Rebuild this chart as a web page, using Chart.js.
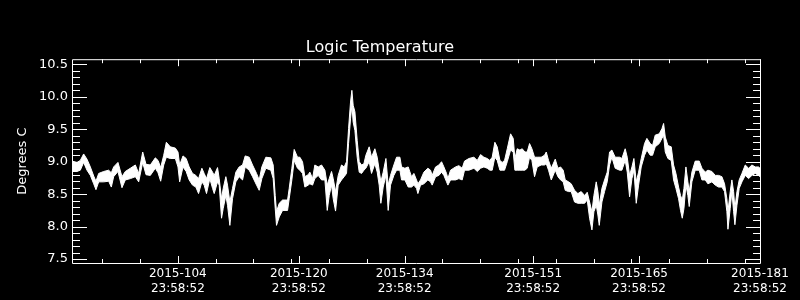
<!DOCTYPE html>
<html>
<head>
<meta charset="utf-8">
<script src="https://cdn.jsdelivr.net/npm/chart.js@4"></script>
<style>
  html, body { margin: 0; padding: 0; background: #000; }
  #wrap { width: 800px; height: 300px; }
</style>
</head>
<body>
<div id="wrap"><canvas id="chart" width="800" height="300"></canvas></div>
<script>
// day of year (2015), upper and lower edge of the noisy temperature band
const days = [
  90.0, 90.66, 91.1, 91.54, 91.98, 92.43, 92.87, 93.17, 93.53, 94.19, 94.85, 95.2, 95.51, 96.08, 96.61, 97.05, 97.72, 98.38, 98.82, 99.35,
  99.79, 100.36, 101.02, 101.38, 101.73, 102.13, 102.48, 103.0, 103.67, 104.02, 104.24, 104.68, 105.1,
  105.5, 105.94, 106.38, 106.74, 107.18, 107.48, 107.79, 108.23, 108.59, 108.81, 109.25, 109.47, 109.78, 110.0, 110.35, 110.57, 110.88, 111.23, 111.67, 112.11,
  112.56, 112.91, 113.44, 113.88, 114.41, 114.76, 115.11, 115.64, 116.3, 116.61, 116.88, 117.05, 117.41, 117.85, 118.51, 118.73, 119.08, 119.39, 119.83,
  120.14, 120.49, 120.8, 121.24, 121.46, 121.82, 122.12, 122.57, 123.01, 123.45, 123.76, 124.02, 124.33, 124.55, 124.86, 125.21, 125.65, 126.0, 126.31, 126.58,
  126.84, 127.02, 127.19, 127.42, 127.72, 127.99, 128.3, 128.61, 128.87, 129.31, 129.62, 130.06, 130.37, 130.63, 130.85, 131.16, 131.52, 131.82, 132.13, 132.57,
  132.93, 133.37, 133.59, 134.03, 134.47, 134.91,
  135.22, 135.57, 135.75, 136.1, 136.54, 137.07, 137.42, 137.64, 138.09, 138.53, 138.88, 139.19, 139.54, 139.72, 140.07, 140.73, 141.17, 141.61, 141.92, 142.5,
  143.16, 143.6, 144.04, 144.48, 144.92, 145.27, 145.58, 145.93, 146.24, 146.6, 146.9, 147.21, 147.57, 148.01, 148.36, 148.58, 148.89, 149.24, 149.55, 149.9, 150.21,
  150.52, 150.83, 151.18, 151.53, 152.06, 152.5, 152.73, 153.03, 153.39, 153.92, 154.27, 154.62, 154.97, 155.24, 155.68, 156.03, 156.47, 156.91, 157.35, 157.8,
  158.15, 158.46, 158.77, 159.03, 159.34, 159.56, 159.74, 160.09, 160.44, 160.79, 161.1, 161.41, 161.85, 162.43, 162.73, 163.17, 163.44, 163.75, 164.06, 164.32,
  164.63, 164.94, 165.29,
  165.73, 166.04, 166.48, 166.79, 167.14, 167.67, 168.03, 168.25, 168.47, 168.82, 169.26, 169.57, 169.88, 170.23, 170.49, 170.72, 170.94, 171.2, 171.46, 171.64,
  171.99, 172.43, 172.96, 173.32, 173.76, 174.11, 174.64, 175.08, 175.52, 175.96, 176.31, 176.62, 176.76, 177.06, 177.28, 177.51, 177.68, 177.95, 178.25, 178.61,
  179.05, 179.49, 179.93, 180.37, 180.81, 181.0
];
const tempHigh = [
  9.01, 8.99, 9.02, 9.12, 9.04, 8.92, 8.78, 8.70, 8.82, 8.85, 8.87, 8.83, 8.92, 8.99, 8.77, 8.85, 8.90, 8.95, 8.82, 9.15,
  8.96, 8.95, 9.06, 9.02, 8.91, 9.10, 9.30, 9.23, 9.21, 9.15, 8.95, 9.09, 9.05,
  8.92, 8.82, 8.79, 8.74, 8.90, 8.82, 8.74, 8.91, 8.84, 8.79, 8.91, 8.74, 8.43, 8.59, 8.77, 8.64, 8.38, 8.59, 8.84, 8.92,
  8.95, 9.09, 9.07, 8.95, 8.82, 8.72, 8.92, 9.07, 9.06, 8.95, 8.48, 8.23, 8.36, 8.41, 8.41, 8.59, 8.90, 9.19, 9.07,
  9.07, 9.00, 8.77, 8.80, 8.84, 8.74, 8.95, 8.92, 8.95, 8.87, 8.64, 8.74, 8.85, 8.74, 8.54, 8.79, 8.95, 8.92, 9.00, 9.51,
  9.92, 10.10, 9.87, 9.77, 9.33, 9.00, 8.95, 8.97, 9.10, 9.23, 9.07, 9.20, 9.07, 8.87, 8.69, 8.84, 9.05, 8.64, 8.79, 8.95,
  9.07, 9.07, 8.92, 8.90, 8.92, 8.77,
  8.82, 8.72, 8.66, 8.72, 8.84, 8.90, 8.87, 8.79, 8.92, 8.95, 9.00, 8.92, 8.82, 8.74, 8.87, 8.92, 8.94, 8.90, 9.01, 9.05,
  9.07, 9.02, 9.11, 9.07, 9.05, 9.02, 9.07, 9.30, 9.23, 9.02, 8.99, 9.02, 9.20, 9.43, 9.36, 9.05, 9.20, 9.18, 9.20, 9.15, 9.15,
  9.28, 9.20, 9.07, 9.07, 9.07, 9.10, 9.15, 9.02, 8.90, 9.04, 8.90, 8.92, 8.87, 8.72, 8.69, 8.66, 8.56, 8.51, 8.54, 8.48,
  8.53, 8.38, 8.23, 8.48, 8.69, 8.54, 8.33, 8.59, 8.72, 8.84, 9.15, 9.18, 9.07, 9.07, 9.05, 9.20, 9.07, 8.79, 8.92, 9.05,
  8.69, 8.84, 9.05,
  9.28, 9.36, 9.28, 9.25, 9.41, 9.43, 9.51, 9.59, 9.38, 9.25, 9.23, 8.95, 8.82, 8.61, 8.48, 8.41, 8.59, 8.92, 8.69, 8.54,
  8.84, 9.01, 9.01, 8.90, 8.84, 8.87, 8.85, 8.79, 8.79, 8.77, 8.66, 8.43, 8.23, 8.54, 8.72, 8.54, 8.28, 8.54, 8.72, 8.82,
  8.95, 8.90, 8.95, 8.92, 8.92, 8.90
];
const tempLow = [
  8.85, 8.85, 8.87, 8.99, 8.87, 8.79, 8.66, 8.57, 8.69, 8.69, 8.70, 8.61, 8.77, 8.85, 8.60, 8.72, 8.74, 8.77, 8.69, 8.99,
  8.80, 8.79, 8.90, 8.83, 8.70, 8.95, 9.07, 9.05, 9.05, 8.92, 8.69, 8.92, 8.85,
  8.72, 8.64, 8.61, 8.51, 8.69, 8.64, 8.51, 8.74, 8.59, 8.51, 8.69, 8.64, 8.13, 8.28, 8.48, 8.33, 8.02, 8.43, 8.69, 8.77,
  8.72, 8.92, 8.87, 8.77, 8.64, 8.56, 8.74, 8.90, 8.87, 8.74, 8.28, 8.02, 8.15, 8.25, 8.25, 8.43, 8.72, 9.02, 8.90,
  8.87, 8.82, 8.61, 8.64, 8.66, 8.64, 8.74, 8.79, 8.72, 8.72, 8.25, 8.48, 8.64, 8.43, 8.24, 8.64, 8.72, 8.77, 8.82, 9.28,
  9.66, 9.87, 9.61, 9.48, 9.07, 8.84, 8.82, 8.87, 8.90, 9.00, 8.82, 8.97, 8.84, 8.64, 8.36, 8.61, 8.79, 8.25, 8.64, 8.79,
  8.87, 8.87, 8.72, 8.72, 8.61, 8.61,
  8.64, 8.59, 8.51, 8.64, 8.66, 8.72, 8.69, 8.64, 8.77, 8.79, 8.84, 8.79, 8.69, 8.64, 8.72, 8.72, 8.74, 8.72, 8.87, 8.87,
  8.90, 8.85, 8.90, 8.92, 8.90, 8.87, 8.87, 9.07, 9.02, 8.87, 8.87, 8.87, 9.00, 9.18, 9.15, 8.87, 8.87, 8.87, 8.87, 8.87, 8.90,
  9.07, 9.02, 8.77, 8.92, 8.95, 8.95, 8.97, 8.87, 8.72, 8.87, 8.77, 8.72, 8.69, 8.56, 8.54, 8.54, 8.38, 8.36, 8.36, 8.36,
  8.41, 8.13, 7.95, 8.23, 8.33, 8.18, 8.02, 8.38, 8.54, 8.69, 8.95, 9.07, 8.90, 8.87, 8.87, 9.02, 8.84, 8.46, 8.74, 8.87,
  8.36, 8.64, 8.92,
  9.10, 9.18, 9.10, 9.10, 9.23, 9.28, 9.36, 9.41, 9.15, 9.05, 9.02, 8.72, 8.59, 8.43, 8.25, 8.13, 8.28, 8.64, 8.48, 8.31,
  8.69, 8.87, 8.87, 8.72, 8.72, 8.66, 8.69, 8.64, 8.61, 8.61, 8.54, 8.23, 7.96, 8.28, 8.54, 8.23, 8.03, 8.33, 8.59, 8.69,
  8.79, 8.74, 8.79, 8.82, 8.79, 8.77
];

const xTickDays = [104, 120, 134, 151, 165, 181];
const xTickDates = ['2015-104', '2015-120', '2015-134', '2015-151', '2015-165', '2015-181'];
const xTickTimes = ['23:58:52', '23:58:52', '23:58:52', '23:58:52', '23:58:52', '23:58:52'];
const xMinorDays = [94, 99, 104, 109, 114, 119, 124, 129, 134, 139, 144, 149, 154, 159, 164, 169, 174, 179];
const yTicks = [7.5, 8.0, 8.5, 9.0, 9.5, 10.0, 10.5];

Chart.defaults.font.family = "'DejaVu Sans', sans-serif";
Chart.defaults.color = '#fff';

// IDL-style box with inward tick marks on all four sides
const frameTicks = {
    id: 'frameTicks',
    afterDraw(chart) {
        const { ctx, chartArea: a, scales: { x, y } } = chart;
        ctx.save();
        ctx.strokeStyle = '#fff';
        ctx.lineWidth = 1;
        ctx.beginPath();
        ctx.rect(a.left + 0.5, a.top + 0.5, a.right - a.left, a.bottom - a.top);
        for (let k = 75; k <= 105; k++) {
            const py = Math.round(y.getPixelForValue(k / 10)) + 0.5;
            const len = k % 5 === 0 ? 15 : 8;
            ctx.moveTo(a.left, py); ctx.lineTo(a.left + len, py);
            ctx.moveTo(a.right + 1, py); ctx.lineTo(a.right + 1 - len, py);
        }
        const xTick = (d, len) => {
            const px = Math.round(x.getPixelForValue(d)) + 0.5;
            ctx.moveTo(px, a.bottom); ctx.lineTo(px, a.bottom - len);
            ctx.moveTo(px, a.top); ctx.lineTo(px, a.top + len);
        };
        xMinorDays.forEach(d => xTick(d, 4));
        xTickDays.forEach(d => xTick(d, 7));
        ctx.stroke();
        ctx.restore();
    }
};

const ctx = document.getElementById('chart').getContext('2d');
new Chart(ctx, {
    type: 'line',
    data: {
        datasets: [
            {
                data: days.map((d, i) => ({ x: d, y: tempHigh[i] })),
                borderColor: '#fff',
                borderWidth: 1,
                pointRadius: 0,
                fill: false
            },
            {
                data: days.map((d, i) => ({ x: d, y: tempLow[i] })),
                borderColor: '#fff',
                backgroundColor: '#fff',
                borderWidth: 1,
                pointRadius: 0,
                fill: '-1'
            }
        ]
    },
    options: {
        responsive: false,
        animation: false,
        devicePixelRatio: 1,
        layout: { padding: { left: 0, right: 40, top: 0, bottom: 0 } },
        plugins: {
            legend: { display: false },
            tooltip: { enabled: false },
            title: {
                display: true,
                text: 'Logic Temperature',
                color: '#fff',
                font: { size: 16, weight: 'normal' },
                padding: { top: 38, bottom: 2 }
            }
        },
        scales: {
            x: {
                type: 'linear',
                min: 90,
                max: 181,
                grid: { display: false, drawTicks: false },
                border: { display: false },
                afterBuildTicks: s => { s.ticks = xTickDays.map(v => ({ value: v })); },
                afterFit: s => { s.height = 37; s.paddingLeft = 0; s.paddingRight = 0; },
                ticks: {
                    autoSkip: false,
                    maxRotation: 0,
                    padding: 3,
                    color: '#fff',
                    font: { size: 12, lineHeight: 1.25 },
                    callback: v => {
                        const i = xTickDays.indexOf(v);
                        return [xTickDates[i], xTickTimes[i]];
                    }
                }
            },
            y: {
                min: 7.44,
                max: 10.58,
                grid: { display: false, drawTicks: false },
                border: { display: false },
                afterBuildTicks: s => { s.ticks = yTicks.map(v => ({ value: v })); },
                afterFit: s => { s.width = 72; s.paddingTop = 0; s.paddingBottom = 0; },
                ticks: {
                    padding: 4,
                    color: '#fff',
                    font: { size: 13 },
                    callback: v => v.toFixed(1)
                },
                title: {
                    display: true,
                    text: 'Degrees C',
                    color: '#fff',
                    font: { size: 13 },
                    padding: { top: 15, bottom: 0 }
                }
            }
        }
    },
    plugins: [frameTicks]
});
</script>
</body>
</html>
